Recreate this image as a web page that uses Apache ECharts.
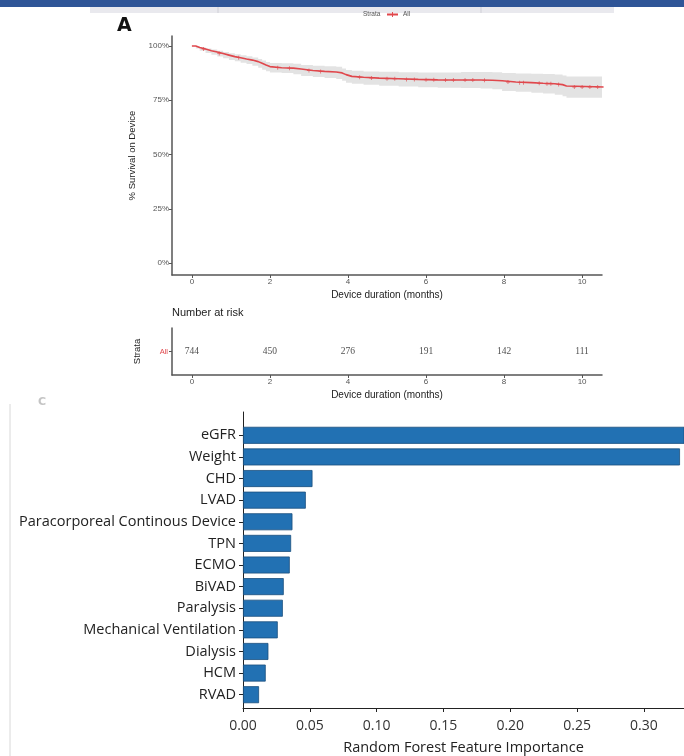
<!DOCTYPE html>
<html><head><meta charset="utf-8">
<script src="https://cdn.jsdelivr.net/npm/echarts@6/dist/echarts.min.js"></script>
<style>html,body{margin:0;padding:0;background:#fff}#c{width:684px;height:756px}</style>
</head><body><div id="c"></div>
<script>
// ---- Kaplan-Meier panel (A) ----
const kmTime  = [0, 0.1, 0.2, 0.35, 0.5, 0.65, 0.8, 0.95, 1.1, 1.25, 1.4, 1.55, 1.7, 1.8, 1.9, 2.0, 2.3, 2.6, 2.8, 3.1, 3.4, 3.7, 3.85, 3.95, 4.1, 4.4, 4.8, 5.3, 5.8, 6.3, 6.9, 7.4, 7.7, 7.95, 8.3, 8.7, 9.0, 9.3, 9.5, 9.6, 10.55];
const kmSurv  = [100, 99.3, 98.6, 97.8, 97.2, 96.5, 95.8, 95.1, 94.6, 94.0, 93.5, 92.8, 92.0, 91.2, 90.5, 90.0, 89.8, 89.4, 88.7, 88.3, 88.0, 87.6, 86.8, 86.0, 85.6, 85.2, 84.9, 84.6, 84.4, 84.3, 84.3, 84.2, 84.0, 83.4, 83.1, 82.8, 82.6, 82.2, 81.6, 81.1, 81.1];
const ciLower = [100, 98.8, 97.8, 96.8, 96.0, 95.2, 94.4, 93.6, 93.0, 92.3, 91.7, 90.9, 90.0, 89.1, 88.4, 87.8, 87.5, 87.0, 86.2, 85.7, 85.3, 84.8, 84.0, 83.1, 82.6, 82.1, 81.7, 81.3, 81.0, 80.8, 80.6, 80.4, 80.1, 79.3, 78.9, 78.4, 78.1, 77.5, 76.8, 76.2, 76.2];
const ciUpper = [100, 99.8, 99.4, 98.8, 98.4, 97.8, 97.2, 96.6, 96.2, 95.7, 95.3, 94.7, 94.0, 93.3, 92.6, 92.2, 92.1, 91.8, 91.2, 90.9, 90.7, 90.4, 89.6, 88.9, 88.6, 88.3, 88.1, 87.9, 87.8, 87.8, 88.0, 88.0, 87.9, 87.5, 87.3, 87.2, 87.1, 86.9, 86.4, 86.0, 86.0];
const censorTimes = [0.3, 0.7, 1.2, 2.2, 2.5, 3.0, 3.3, 4.3, 4.6, 5.0, 5.2, 5.5, 5.7, 6.0, 6.2, 6.5, 6.7, 7.0, 7.2, 7.5, 8.1, 8.4, 8.5, 8.9, 9.1, 9.2, 9.4, 9.8, 10.0, 10.2, 10.4];
const kmXTicks = [0, 2, 4, 6, 8, 10];
const kmYTicks = [0, 25, 50, 75, 100];
const riskLabel = ['All'];
const riskTimes = [0, 2, 4, 6, 8, 10];
const riskCounts = [744, 450, 276, 191, 142, 111];

// ---- Random forest panel ----
const features = ['eGFR', 'Weight', 'CHD', 'LVAD', 'Paracorporeal Continous Device', 'TPN', 'ECMO', 'BiVAD', 'Paralysis', 'Mechanical Ventilation', 'Dialysis', 'HCM', 'RVAD'];
const importance = [0.331, 0.327, 0.052, 0.047, 0.037, 0.036, 0.035, 0.0305, 0.0298, 0.026, 0.019, 0.017, 0.012];
const rfTicks = [0, 0.05, 0.10, 0.15, 0.20, 0.25, 0.30];

function stepAt(t) {
  let v = kmSurv[0];
  for (let i = 0; i < kmTime.length; i++) { if (kmTime[i] <= t) v = kmSurv[i]; }
  return v;
}

const red = '#E0474C';
const kmFont = 'Liberation Sans';
const chart = echarts.init(document.getElementById('c'), null, {renderer: 'canvas'});
const plusPath = 'path://M4,0 L6,0 L6,4 L10,4 L10,6 L6,6 L6,10 L4,10 L4,6 L0,6 L0,4 L4,4 Z';

const kmAxisLine = {show: true, onZero: false, lineStyle: {color: '#555', width: 1.5}};

// confidence band polygon (step-shaped) built from the CI arrays through the axis scales
function renderBand(params, api) {
  const pts = [];
  for (let i = 0; i < kmTime.length; i++) {
    if (i > 0) pts.push(api.coord([kmTime[i], ciUpper[i - 1]]));
    pts.push(api.coord([kmTime[i], ciUpper[i]]));
  }
  for (let i = kmTime.length - 1; i >= 0; i--) {
    pts.push(api.coord([kmTime[i], ciLower[i]]));
    if (i > 0) pts.push(api.coord([kmTime[i], ciLower[i - 1]]));
  }
  return {type: 'polygon', shape: {points: pts}, style: {fill: '#E3E3E3'}, silent: true};
}

chart.setOption({
  animation: false,
  backgroundColor: '#fff',
  legend: {
    data: ['All'], left: 386, top: 11, itemWidth: 11, itemHeight: 6, itemGap: 2,
    textStyle: {fontSize: 6.5, color: '#555', fontFamily: kmFont}, padding: 0
  },
  graphic: [
    {type: 'rect', shape: {x: 0, y: 0, width: 684, height: 7}, style: {fill: '#2F5597'}, silent: true},
    {type: 'rect', shape: {x: 90, y: 7, width: 524, height: 6}, style: {fill: '#E9E9EE'}, silent: true},
    {type: 'line', shape: {x1: 218, y1: 7, x2: 218, y2: 13}, style: {stroke: '#cfcfd6', lineWidth: 1}},
    {type: 'line', shape: {x1: 481, y1: 7, x2: 481, y2: 13}, style: {stroke: '#cfcfd6', lineWidth: 1}},
    {type: 'text', left: 363, top: 11, style: {text: 'Strata', fontSize: 6.5, fill: '#555', fontFamily: kmFont}},
    {type: 'text', left: 117, top: 17, style: {text: 'A', fontSize: 19, fontWeight: 'bold', fill: '#111', fontFamily: 'DejaVu Sans'}},
    {type: 'text', left: 172, top: 307, style: {text: 'Number at risk', fontSize: 11, fill: '#222', fontFamily: kmFont}},
    {type: 'text', left: 38, top: 397, style: {text: 'C', fontSize: 11, fontWeight: 'bold', fill: '#c4c4c4', fontFamily: 'DejaVu Sans'}},
    {type: 'line', shape: {x1: 10, y1: 404, x2: 10, y2: 756}, style: {stroke: '#d8d8d8', lineWidth: 1}}
  ],
  grid: [
    {left: 172, top: 36, width: 430, height: 239},
    {left: 172, top: 328, width: 430, height: 47},
    {left: 243, top: 424.5, right: 0, height: 281},
    {left: 243, top: 412, right: 0, height: 302}
  ],
  xAxis: [
    {gridIndex: 0, type: 'value', min: -0.51, max: 10.51, z: 5,
     name: 'Device duration (months)', nameLocation: 'middle', nameGap: 15,
     nameTextStyle: {fontSize: 10, color: '#222', fontFamily: kmFont},
     axisLine: kmAxisLine,
     axisTick: {show: true, length: 3, lineStyle: {color: '#555'}, customValues: kmXTicks},
     axisLabel: {fontSize: 8, color: '#555', margin: 3, fontFamily: kmFont, customValues: kmXTicks},
     splitLine: {show: false}},
    {gridIndex: 1, type: 'value', min: -0.51, max: 10.51,
     name: 'Device duration (months)', nameLocation: 'middle', nameGap: 15,
     nameTextStyle: {fontSize: 10, color: '#222', fontFamily: kmFont},
     axisLine: kmAxisLine,
     axisTick: {show: true, length: 3, lineStyle: {color: '#555'}, customValues: kmXTicks},
     axisLabel: {fontSize: 8, color: '#555', margin: 3, fontFamily: kmFont, customValues: kmXTicks},
     splitLine: {show: false}},
    {gridIndex: 2, type: 'value', min: 0, max: 0.33, show: false},
    {gridIndex: 3, type: 'value', min: 0, max: 0.33,
     name: 'Random Forest Feature Importance', nameLocation: 'middle', nameGap: 32,
     nameTextStyle: {fontSize: 14.5, color: '#222', fontFamily: 'Open Sans'},
     axisLine: {show: true, lineStyle: {color: '#222', width: 1}},
     axisTick: {show: true, length: 4, lineStyle: {color: '#222'}, customValues: rfTicks},
     axisLabel: {fontSize: 14, color: '#333', margin: 11, fontFamily: 'Open Sans', customValues: rfTicks,
                 formatter: v => v.toFixed(2)},
     splitLine: {show: false}}
  ],
  yAxis: [
    {gridIndex: 0, type: 'value', min: -5.5, max: 104.6, z: 5,
     name: '% Survival on Device', nameLocation: 'middle', nameGap: 31, nameRotate: 90,
     nameTextStyle: {fontSize: 9.5, color: '#222', fontFamily: kmFont},
     axisLine: kmAxisLine,
     axisTick: {show: true, length: 3, lineStyle: {color: '#555'}, customValues: kmYTicks},
     axisLabel: {fontSize: 8, color: '#555', margin: 3, fontFamily: kmFont, customValues: kmYTicks,
                 formatter: v => v + '%'},
     splitLine: {show: false}},
    {gridIndex: 1, type: 'category', data: riskLabel,
     name: 'Strata', nameLocation: 'middle', nameGap: 30, nameRotate: 90,
     nameTextStyle: {fontSize: 9.5, color: '#222', fontFamily: kmFont},
     axisLine: kmAxisLine,
     axisTick: {show: true, length: 3, alignWithLabel: true, lineStyle: {color: '#555'}},
     axisLabel: {fontSize: 7.5, color: red, margin: 4, fontFamily: kmFont}},
    {gridIndex: 2, type: 'category', data: features, inverse: true,
     axisLine: {show: false},
     axisTick: {show: true, length: 4, alignWithLabel: true, lineStyle: {color: '#222'}},
     axisLabel: {fontSize: 14.5, color: '#222', margin: 7, fontFamily: 'Open Sans'}},
    {gridIndex: 3, type: 'value', min: 0, max: 1,
     axisLine: {show: true, onZero: false, lineStyle: {color: '#222', width: 1}},
     axisTick: {show: false}, axisLabel: {show: false}, splitLine: {show: false}}
  ],
  series: [
    {name: 'ciBand', type: 'custom', xAxisIndex: 0, yAxisIndex: 0, z: 1, silent: true,
     renderItem: renderBand, data: [[kmTime[0], ciUpper[0]]], clip: true},
    {name: 'All', type: 'line', xAxisIndex: 0, yAxisIndex: 0, step: 'end', z: 3,
     symbol: plusPath, symbolSize: 0, showSymbol: false, itemStyle: {color: red},
     lineStyle: {color: red, width: 1.6},
     data: kmTime.map((t, i) => [t, kmSurv[i]])},
    {name: 'censor', type: 'scatter', xAxisIndex: 0, yAxisIndex: 0, z: 3,
     symbol: plusPath, symbolSize: 4, itemStyle: {color: red},
     data: censorTimes.map(t => [t, stepAt(t)])},
    {name: 'risk', type: 'scatter', xAxisIndex: 1, yAxisIndex: 1, symbolSize: 0,
     label: {show: true, position: 'inside', formatter: p => p.value[2], fontSize: 9.5,
             color: '#222', fontFamily: 'Liberation Serif'},
     data: riskTimes.map((t, i) => [t, riskLabel[0], riskCounts[i]])},
    {name: 'importance', type: 'bar', xAxisIndex: 2, yAxisIndex: 2, barWidth: 17,
     itemStyle: {color: '#2271B3', borderColor: '#1B4F7E', borderWidth: 0.8},
     data: importance}
  ]
});
</script></body></html>
